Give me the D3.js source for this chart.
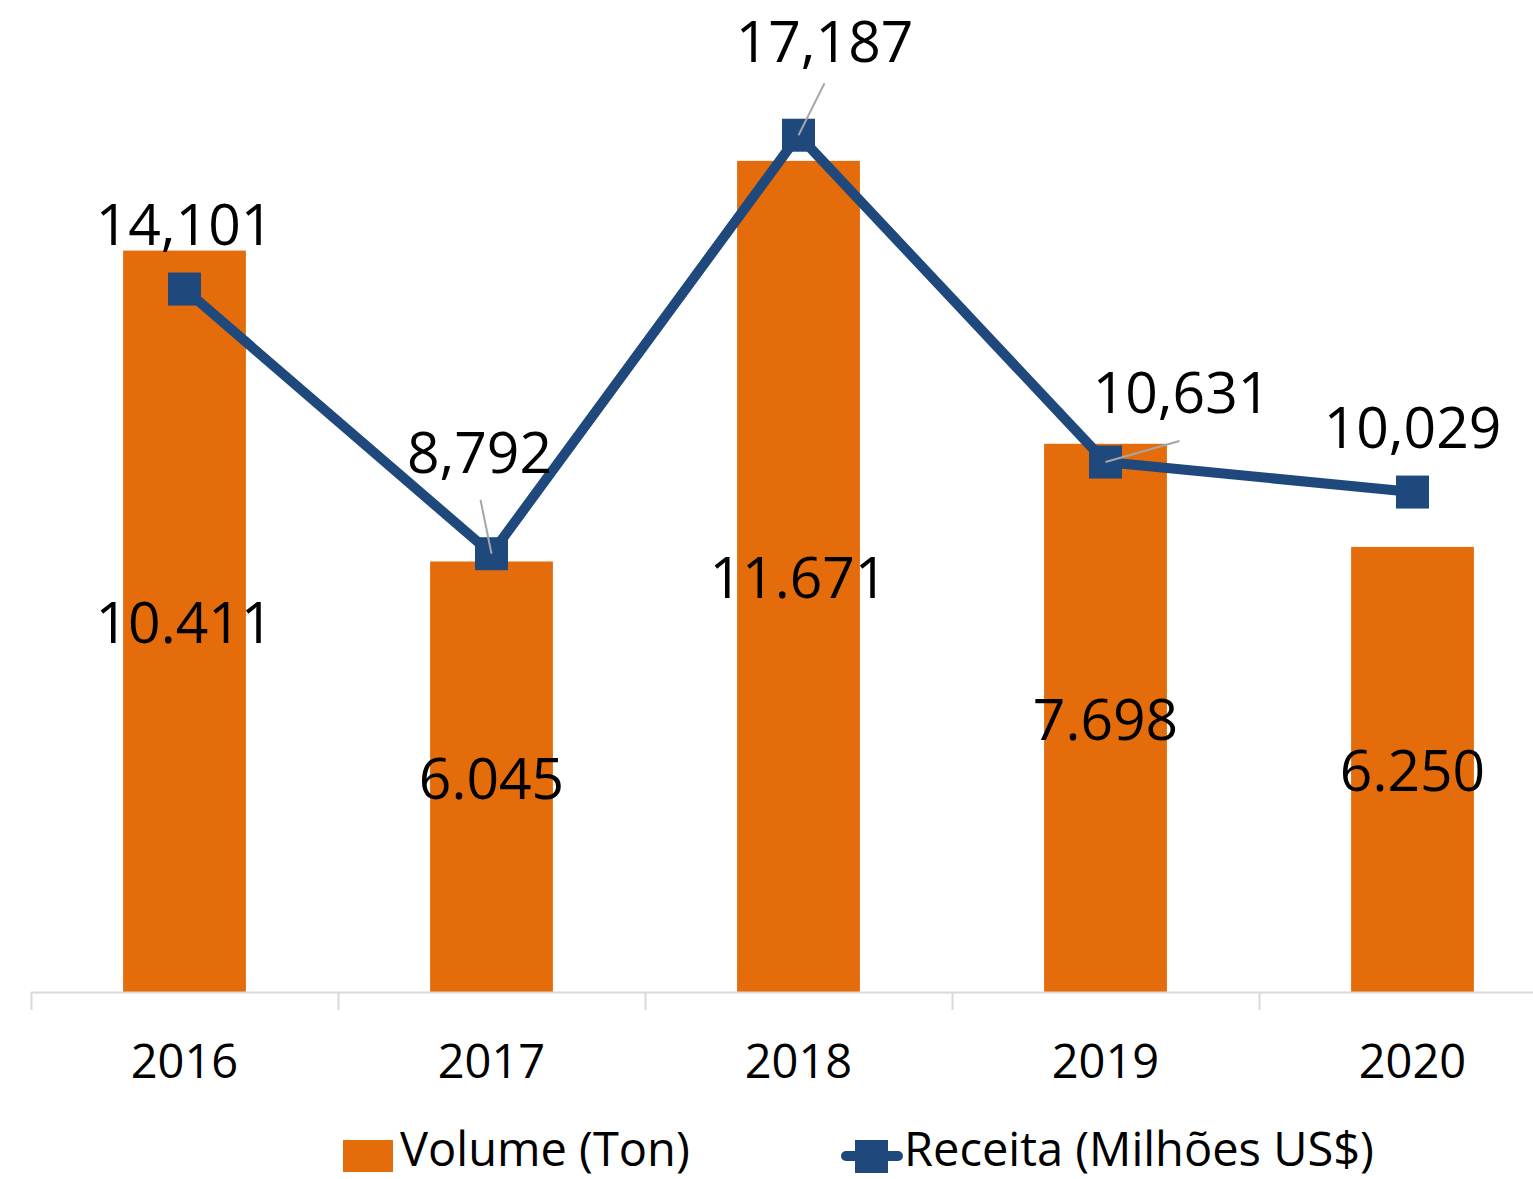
<!DOCTYPE html>
<html>
<head>
<meta charset="utf-8">
<script src="https://cdn.jsdelivr.net/npm/d3@7"></script>
<style>
  body { margin: 0; background: #fff; }
  svg { display: block; font-family: "Open Sans", sans-serif; }
</style>
</head>
<body>
<svg id="chart" width="1533" height="1179"></svg>
<script>
// Data
var years = ["2016", "2017", "2018", "2019", "2020"];
var volume = [10411, 6045, 11671, 7698, 6250];          // Volume (Ton)
var receita = [14.101, 8.792, 17.187, 10.631, 10.029];  // Receita (Milhões US$)
var volumeLabels = ["10.411", "6.045", "11.671", "7.698", "6.250"];
var receitaLabels = ["14,101", "8,792", "17,187", "10,631", "10,029"];

// Label displacement for the line labels (dx, dy from default spot), leader lines where moved
var receitaLabelShift = [[0, 0], [-12, -37], [26, -29], [76, -5], [0, 0]];

var orange = "#E46C0A";
var blue = "#1F497D";

var svg = d3.select("#chart");
var baseY = 992, topY = -5;

var x = d3.scaleBand().domain(years).range([31, 1566]).paddingInner(0).paddingOuter(0);
var yVol = d3.scaleLinear().domain([0, 14000]).range([baseY, topY]);
var yRec = d3.scaleLinear().domain([0, 20]).range([baseY, topY]);

var barW = x.bandwidth() * 0.4;
function cx(d) { return x(d) + x.bandwidth() / 2; }

// Bars
svg.append("g").selectAll("rect")
    .data(years)
    .join("rect")
    .attr("x", function(d) { return cx(d) - barW / 2; })
    .attr("width", barW)
    .attr("y", function(d, i) { return yVol(volume[i]); })
    .attr("height", function(d, i) { return baseY - yVol(volume[i]); })
    .attr("fill", orange);

// Category axis
var axis = svg.append("g");
axis.append("line")
    .attr("x1", 31).attr("x2", 1533)
    .attr("y1", baseY + 0.5).attr("y2", baseY + 0.5)
    .attr("stroke", "#d9d9d9").attr("stroke-width", 2);
axis.selectAll("line.tick")
    .data(years)
    .join("line")
    .attr("class", "tick")
    .attr("x1", function(d) { return x(d) + 0.5; })
    .attr("x2", function(d) { return x(d) + 0.5; })
    .attr("y1", baseY).attr("y2", baseY + 18)
    .attr("stroke", "#d9d9d9").attr("stroke-width", 2);
axis.selectAll("text")
    .data(years)
    .join("text")
    .attr("x", cx)
    .attr("y", 1078)
    .attr("text-anchor", "middle")
    .attr("font-size", 47)
    .attr("fill", "#000")
    .text(function(d) { return d; });

// Bar labels (centered inside bars)
svg.append("g").selectAll("text")
    .data(years)
    .join("text")
    .attr("x", cx)
    .attr("y", function(d, i) { return (yVol(volume[i]) + baseY) / 2 + 22; })
    .attr("text-anchor", "middle")
    .attr("font-size", 57)
    .attr("fill", "#000")
    .text(function(d, i) { return volumeLabels[i]; });

// Line
var line = d3.line()
    .x(function(d) { return cx(d); })
    .y(function(d, i) { return yRec(receita[i]); });
svg.append("path")
    .datum(years)
    .attr("d", line)
    .attr("fill", "none")
    .attr("stroke", blue)
    .attr("stroke-width", 10)
    .attr("stroke-linejoin", "round");

// Markers
var ms = 33;
svg.append("g").selectAll("rect")
    .data(years)
    .join("rect")
    .attr("x", function(d) { return cx(d) - ms / 2; })
    .attr("y", function(d, i) { return yRec(receita[i]) - ms / 2; })
    .attr("width", ms).attr("height", ms)
    .attr("fill", blue);

// Line labels with leader lines
var recLab = svg.append("g");
years.forEach(function(d, i) {
    var px = cx(d), py = yRec(receita[i]);
    var dx = receitaLabelShift[i][0], dy = receitaLabelShift[i][1];
    var lx = px + dx, ly = py - 44 + dy;
    if (dx !== 0 || dy !== 0) {
        // leader from near the label edge to the point
        var sx, sy;
        if (i === 1) { sx = lx + 1; sy = ly + 27; }
        else if (i === 2) { sx = lx; sy = ly + 21; }
        else { sx = lx - 2; sy = ly + 28; }
        recLab.append("line")
            .attr("x1", sx).attr("y1", sy)
            .attr("x2", px).attr("y2", py)
            .attr("stroke", "#a6a6a6").attr("stroke-width", 2);
    }
    recLab.append("text")
        .attr("x", lx)
        .attr("y", ly)
        .attr("text-anchor", "middle")
        .attr("font-size", 57)
        .attr("fill", "#000")
        .text(receitaLabels[i]);
});

// Legend
var leg = svg.append("g");
leg.append("rect")
    .attr("x", 343).attr("y", 1140).attr("width", 50).attr("height", 32)
    .attr("fill", orange);
leg.append("text")
    .attr("x", 400).attr("y", 1166)
    .attr("font-size", 47).attr("fill", "#000")
    .text("Volume (Ton)");
leg.append("line")
    .attr("x1", 846).attr("x2", 898).attr("y1", 1156).attr("y2", 1156)
    .attr("stroke", blue).attr("stroke-width", 10).attr("stroke-linecap", "round");
leg.append("rect")
    .attr("x", 855).attr("y", 1140).attr("width", 33).attr("height", 33)
    .attr("fill", blue);
leg.append("text")
    .attr("x", 904).attr("y", 1166)
    .attr("font-size", 47).attr("fill", "#000")
    .text("Receita (Milhões US$)");
</script>
</body>
</html>
